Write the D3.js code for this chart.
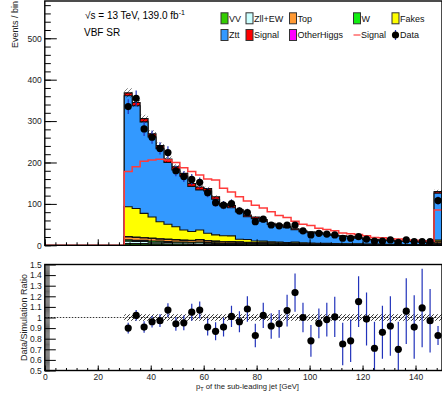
<!DOCTYPE html>
<html>
<head>
<meta charset="utf-8">
<script src="https://d3js.org/d3.v7.min.js"></script>
<style>
  body { margin: 0; background: #fff; }
  svg { display: block; font-family: "Liberation Sans", Arial, sans-serif; }
</style>
</head>
<body>
<div id="chart"></div>
<script>
// bin edges (GeV), 3 GeV bins from 30, last bin holds overflow
const binEdges = [30,33,36,39,42,45,48,51,54,57,60,63,66,69,72,75,78,81,84,87,90,
                  93,96,99,102,105,108,111,114,117,120,123,126,129,132,135,138,141,144,147,150];

// stacked backgrounds, events per bin
const vv         = [4,4,4,3.5,3.5,3,3,3,2.5,2.5, 2.5,2,2,2,2,1.5,1.5,1.5,1.5,1.2, 1.2,1,1,1,1,0.8,0.8,0.8,0.7,0.7, 0.6,0.6,0.5,0.5,0.5,0.5,0.4,0.4,0.4,2];
const zllEW      = [6,5,5,4,4,3.5,3,3,3,3.5, 2.5,2.5,2,2,2,1.5,1.5,1.5,1.2,1.2, 1,1,1,0.8,0.8,0.8,0.7,0.6,0.6,0.5, 0.5,0.5,0.4,0.4,0.4,0.4,0.3,0.3,0.3,2];
const wjets      = [3,3,3,3,2.5,2.5,2,2,2,2, 1.5,1.5,1.5,1.2,1.2,1,1,1,0.8,0.8, 0.7,0.7,0.6,0.6,0.5,0.5,0.5,0.4,0.4,0.4, 0.3,0.3,0.3,0.3,0.2,0.2,0.2,0.2,0.2,1];
const topq       = [7,7,6,6,5,5,5,4,4,5, 4,3.5,3,3,2.5,2.5,2,2,2,1.5, 1.5,1.5,1.2,1.2,1,1,1,0.8,0.8,0.7, 0.6,0.6,0.5,0.5,0.5,0.4,0.4,0.4,0.4,3];
const otherHiggs = [1,1,1,1,1,1,0.8,0.8,0.8,0.8, 0.7,0.7,0.6,0.6,0.5,0.5,0.5,0.5,0.4,0.4, 0.4,0.4,0.3,0.3,0.3,0.3,0.3,0.2,0.2,0.2, 0.2,0.2,0.2,0.2,0.1,0.1,0.1,0.1,0.1,0.5];
const fakes      = [72,69,58,51,41,36,31,24,21,23, 18,15,14,14,6.5,7,4,3.5,2.5,2.5, 2,3,2,1.5,1.5,1.2,1.2,1,1,1, 0.8,0.8,0.6,0.6,0.5,0.5,0.5,0.4,0.4,4];
const ztt        = [268,248,221,193,176,149,137,130,109,97, 102,86,72,68,66,55,54,48,42,39, 36,30,27,25,24,21,19,18,17,13.5, 11,10,8.7,9.8,7.2,8.4,7.6,5.7,6.8,113.5];
const signalStk  = [7,8,8,8,8,8,8,7,7,7, 6,6,5,5,5,4,4,4,3,3, 3,2.5,2,2,2,1.5,1.5,1.2,1.2,1, 1,0.8,0.8,0.7,0.6,0.5,0.5,0.5,0.4,4];

// signal drawn alone as a line
const signalLine = [178,190,203,206,208,206,200,187,178,170, 160,158,138,129,117,107,97,90,81,72,
                    67,58,51,48,41,38,35,30,28,26, 23,19,18,16,15,13,12,11,10,85];

const data    = [335,355,281,261,234,224,180,166,159,152, 127,103,97,101,83,79,57,63,49,47,
                 49,49,35,25,29,27,25,17,17,21, 15,10,10,13,7,13,9,9,9,108];
const dataErr = [18,19,17,16,15,15,13,13,13,12, 11,10,10,10,9,9,8,8,7,7,
                 7,7,6,5,5,5,5,4,4,5, 4,3,3,4,3,4,3,3,3,10];

// MC relative uncertainty
const mcUnc = [0.03,0.03,0.03,0.03,0.03,0.03,0.03,0.03,0.03,0.03, 0.03,0.03,0.03,0.03,0.03,0.03,0.03,0.03,0.03,0.03,
               0.03,0.03,0.03,0.03,0.03,0.03,0.03,0.03,0.03,0.03, 0.03,0.03,0.03,0.03,0.03,0.03,0.03,0.03,0.03,0.03];

// data / simulation
const ratio    = [0.90,1.02,0.91,0.96,0.97,1.07,0.94,0.95,1.05,1.07, 0.91,0.87,0.91,1.01,0.96,1.08,0.83,1.02,0.92,0.94,
                  1.065,1.235,1.0,0.78,0.945,0.98,1.005,0.75,0.78,1.15, 0.985,0.71,0.86,0.92,0.70,1.06,0.91,1.09,0.97,0.83];
const ratioErr = [0.05,0.05,0.055,0.055,0.06,0.065,0.065,0.07,0.08,0.08, 0.08,0.085,0.09,0.1,0.1,0.12,0.11,0.12,0.12,0.13,
                  0.15,0.18,0.14,0.15,0.14,0.16,0.19,0.2,0.2,0.24, 0.25,0.25,0.25,0.28,0.26,0.31,0.3,0.37,0.3,0.09];

const xTickLabels   = [0,20,40,60,80,100,120,140];
const yTickLabels   = [0,100,200,300,400,500];
const ratioTickLabels = [0.5,0.6,0.7,0.8,0.9,1.0,1.1,1.2,1.3,1.4,1.5];

const colors = {
  vv: '#33cc00', zllEW: '#ccffff', wjets: '#11ee11', topq: '#ff9933',
  otherHiggs: '#ff00ff', fakes: '#ffff00', ztt: '#3399ff', signalStk: '#ff0000'
};
const errBlue = '#2233bb';

const W = 442, H = 399;
const x = d3.scaleLinear().domain([0, 150]).range([44.8, 442]);
const yTop = d3.scaleLinear().domain([0, 590]).range([245.3, 1]);
const yRat = d3.scaleLinear().domain([0.5, 1.5]).range([370.5, 264.5]);

const svg = d3.select('#chart').append('svg').attr('width', W).attr('height', H);
const defs = svg.append('defs');
defs.append('clipPath').attr('id', 'clipTop').append('rect')
  .attr('x', x(0)).attr('y', yTop(590)).attr('width', x(150) - x(0)).attr('height', yTop(0) - yTop(590));
defs.append('clipPath').attr('id', 'clipRat').append('rect')
  .attr('x', x(0)).attr('y', yRat(1.5)).attr('width', x(150) - x(0)).attr('height', yRat(0.5) - yRat(1.5));
const pat = defs.append('pattern').attr('id', 'hatch').attr('patternUnits', 'userSpaceOnUse')
  .attr('width', 4).attr('height', 4);
pat.append('path').attr('d', 'M-1,1 l2,-2 M0,4 l4,-4 M3,5 l2,-2')
  .attr('stroke', '#000').attr('stroke-width', 0.8);

// ---------- upper panel ----------
const keys = ['vv', 'zllEW', 'wjets', 'topq', 'otherHiggs', 'fakes', 'ztt', 'signalStk'];
const src = { vv, zllEW, wjets, topq, otherHiggs, fakes, ztt, signalStk };
const rows = vv.map((_, i) => {
  const r = { edge: binEdges[i], i: i };
  keys.forEach(k => r[k] = src[k][i]);
  return r;
});
rows.push(Object.assign({}, rows[rows.length - 1], { edge: binEdges[binEdges.length - 1] }));
const series = d3.stack().keys(keys)(rows);

const mainPanel = svg.append('g').attr('clip-path', 'url(#clipTop)');

series.slice().reverse().forEach(s => {
  const area = d3.area().curve(d3.curveStepAfter)
    .x(d => x(d.data.edge)).y0(yTop(0)).y1(d => yTop(d[1]));
  mainPanel.append('path').datum(s).attr('d', area)
    .attr('fill', colors[s.key]).attr('stroke', '#111').attr('stroke-width', 1.1);
});

// MC uncertainty on the total
const totalSeries = series[series.length - 1];
mainPanel.append('path').datum(totalSeries)
  .attr('d', d3.area().curve(d3.curveStepAfter)
    .x(d => x(d.data.edge))
    .y0(d => yTop(d[1] * (1 - mcUnc[d.data.i])))
    .y1(d => yTop(d[1] * (1 + mcUnc[d.data.i]))))
  .attr('fill', 'url(#hatch)').attr('opacity', 0.6);

// signal line
const sigPts = [{ edge: 0, v: 0 }].concat(signalLine.map((v, i) => ({ edge: binEdges[i], v })));
sigPts.push({ edge: binEdges[binEdges.length - 1], v: signalLine[signalLine.length - 1] });
mainPanel.append('path').datum(sigPts)
  .attr('d', d3.line().curve(d3.curveStepAfter).x(d => x(d.edge)).y(d => yTop(d.v)))
  .attr('fill', 'none').attr('stroke', '#ff3b3b').attr('stroke-width', 1.5);

// data
const centers = data.map((_, i) => (binEdges[i] + binEdges[i + 1]) / 2);
const dg = mainPanel.append('g');
dg.selectAll('line').data(data).enter().append('line')
  .attr('x1', (d, i) => x(centers[i])).attr('x2', (d, i) => x(centers[i]))
  .attr('y1', (d, i) => yTop(d - dataErr[i])).attr('y2', (d, i) => yTop(d + dataErr[i]))
  .attr('stroke', errBlue).attr('stroke-width', 1.2);
dg.selectAll('circle').data(data).enter().append('circle')
  .attr('cx', (d, i) => x(centers[i])).attr('cy', d => yTop(d)).attr('r', 3.6).attr('fill', '#000');

// frame + axes
svg.append('rect').attr('x', x(0)).attr('y', yTop(590)).attr('width', x(150) - x(0))
  .attr('height', yTop(0) - yTop(590)).attr('fill', 'none').attr('stroke', '#000').attr('stroke-width', 1.4);

function styleAxis(g) {
  g.select('.domain').remove();
  g.selectAll('line').attr('stroke', '#000');
  g.selectAll('text').attr('font-size', '8.5px').attr('fill', '#222')
    .style('font-family', '"Liberation Sans", Arial, sans-serif');
}

svg.append('g').attr('transform', `translate(${x(0)},0)`)
  .call(d3.axisLeft(yTop).tickValues(d3.range(0, 590, 20)).tickSize(-6).tickFormat(''))
  .call(styleAxis);
svg.append('g').attr('transform', `translate(${x(0)},0)`)
  .call(d3.axisLeft(yTop).tickValues(yTickLabels).tickSize(-12).tickPadding(3))
  .call(styleAxis);
svg.append('g').attr('transform', `translate(0,${yTop(0)})`)
  .call(d3.axisBottom(x).tickValues(d3.range(0, 150, 4)).tickSize(-3).tickFormat(''))
  .call(styleAxis);
svg.append('g').attr('transform', `translate(0,${yTop(0)})`)
  .call(d3.axisBottom(x).tickValues(xTickLabels).tickSize(-6).tickFormat(''))
  .call(styleAxis);

svg.append('text').attr('transform', 'translate(17.5,1) rotate(-90)')
  .attr('text-anchor', 'end').attr('font-size', '9px').attr('fill', '#222').text('Events / bin');

const lumi = svg.append('text').attr('x', 85).attr('y', 18.5).attr('font-size', '10px').attr('fill', '#000');
lumi.append('tspan').text('\u221As = 13 TeV, 139.0 fb');
lumi.append('tspan').attr('font-size', '7px').attr('dy', -4).text('-1');
svg.append('text').attr('x', 84).attr('y', 35.5).attr('font-size', '10px').attr('fill', '#000').text('VBF SR');

// legend
const legendCols = [221, 246, 289.5, 353.5, 392];
const legendRows = [18.3, 35];
const legendItems = [
  { label: 'VV', key: 'vv', kind: 'box' },
  { label: 'Zll+EW', key: 'zllEW', kind: 'box' },
  { label: 'Top', key: 'topq', kind: 'box' },
  { label: 'W', key: 'wjets', kind: 'box' },
  { label: 'Fakes', key: 'fakes', kind: 'box' },
  { label: 'Ztt', key: 'ztt', kind: 'box' },
  { label: 'Signal', key: 'signalStk', kind: 'box' },
  { label: 'OtherHiggs', key: 'otherHiggs', kind: 'box' },
  { label: 'Signal', kind: 'line' },
  { label: 'Data', kind: 'marker' }
];
legendItems.forEach((it, i) => {
  const cx = legendCols[i % 5], cy = legendRows[Math.floor(i / 5)];
  const g = svg.append('g');
  if (it.kind === 'box') {
    g.append('rect').attr('x', cx).attr('y', cy - 5.5).attr('width', 7).attr('height', 11)
      .attr('fill', colors[it.key]).attr('stroke', '#333').attr('stroke-width', 1);
    g.append('text').attr('x', cx + 8).attr('y', cy + 3.2).attr('font-size', '9px').attr('fill', '#111').text(it.label);
  } else if (it.kind === 'line') {
    g.append('line').attr('x1', cx).attr('x2', cx + 7).attr('y1', cy).attr('y2', cy)
      .attr('stroke', '#ff6a6a').attr('stroke-width', 1.5);
    g.append('text').attr('x', cx + 7.5).attr('y', cy + 3.2).attr('font-size', '9px').attr('fill', '#111').text(it.label);
  } else {
    g.append('line').attr('x1', cx + 3.5).attr('x2', cx + 3.5).attr('y1', cy - 5).attr('y2', cy + 5)
      .attr('stroke', errBlue).attr('stroke-width', 1.2);
    g.append('circle').attr('cx', cx + 3.5).attr('cy', cy).attr('r', 3.6).attr('fill', '#000');
    g.append('text').attr('x', cx + 8).attr('y', cy + 3.2).attr('font-size', '9px').attr('fill', '#111').text(it.label);
  }
});

// ---------- ratio panel ----------
const rat = svg.append('g').attr('clip-path', 'url(#clipRat)');
const bandPts = mcUnc.map((u, i) => ({ edge: binEdges[i], u }));
bandPts.push({ edge: binEdges[binEdges.length - 1], u: mcUnc[mcUnc.length - 1] });
rat.append('path').datum(bandPts)
  .attr('d', d3.area().curve(d3.curveStepAfter).x(d => x(d.edge))
    .y0(d => yRat(1 - d.u)).y1(d => yRat(1 + d.u)))
  .attr('fill', 'url(#hatch)');
rat.append('line').attr('x1', x(0)).attr('x2', x(150)).attr('y1', yRat(1)).attr('y2', yRat(1))
  .attr('stroke', '#333').attr('stroke-width', 1).attr('stroke-dasharray', '1.5,1.5');
rat.selectAll('line.err').data(ratio).enter().append('line').attr('class', 'err')
  .attr('x1', (d, i) => x(centers[i])).attr('x2', (d, i) => x(centers[i]))
  .attr('y1', (d, i) => yRat(d - ratioErr[i])).attr('y2', (d, i) => yRat(d + ratioErr[i]))
  .attr('stroke', errBlue).attr('stroke-width', 1.2);
rat.selectAll('circle').data(ratio).enter().append('circle')
  .attr('cx', (d, i) => x(centers[i])).attr('cy', d => yRat(d)).attr('r', 3.6).attr('fill', '#000');

svg.append('rect').attr('x', x(0)).attr('y', yRat(1.5)).attr('width', x(150) - x(0))
  .attr('height', yRat(0.5) - yRat(1.5)).attr('fill', 'none').attr('stroke', '#000').attr('stroke-width', 1.4);

svg.append('g').attr('transform', `translate(${x(0)},0)`)
  .call(d3.axisLeft(yRat).tickValues(d3.range(0.5, 1.5, 0.01)).tickSize(-5).tickFormat(''))
  .call(styleAxis)
  .call(g => g.selectAll('line').attr('stroke-width', 0.6));
svg.append('g').attr('transform', `translate(${x(0)},0)`)
  .call(d3.axisLeft(yRat).tickValues(ratioTickLabels).tickSize(-11).tickPadding(3)
    .tickFormat(d => Math.abs(d - 1) < 1e-9 ? '1' : d3.format('.1f')(d)))
  .call(styleAxis);
svg.append('g').attr('transform', `translate(0,${yRat(0.5)})`)
  .call(d3.axisBottom(x).tickValues(d3.range(0, 150, 4)).tickSize(-2.5).tickFormat(''))
  .call(styleAxis);
svg.append('g').attr('transform', `translate(0,${yRat(0.5)})`)
  .call(d3.axisBottom(x).tickValues(xTickLabels).tickSize(-5).tickPadding(3))
  .call(styleAxis);

svg.append('text').attr('transform', `translate(26.5,${yRat(1)}) rotate(-90)`)
  .attr('text-anchor', 'middle').attr('font-size', '9px').attr('fill', '#222').text('Data/Simulation Ratio');

const xt = svg.append('text').attr('x', 299).attr('y', 389).attr('text-anchor', 'end')
  .attr('font-size', '7.7px').attr('fill', '#222');
xt.append('tspan').text('p');
xt.append('tspan').attr('font-size', '5.5px').attr('dy', 2).text('T');
xt.append('tspan').attr('dy', -2).text(' of the sub-leading jet [GeV]');
</script>
</body>
</html>
